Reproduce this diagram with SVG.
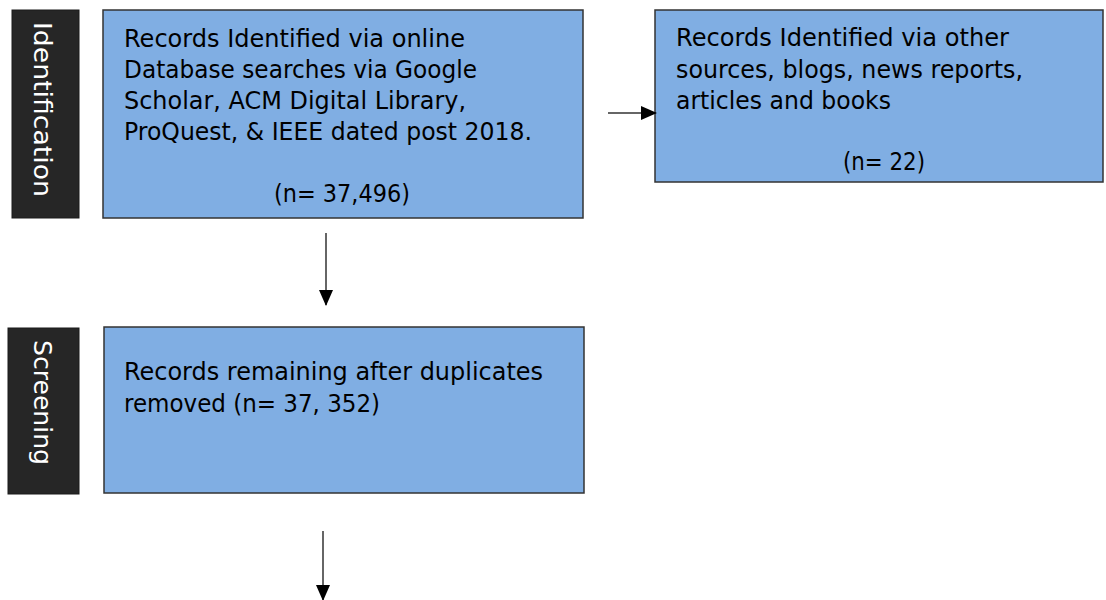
<svg xmlns="http://www.w3.org/2000/svg" width="1106" height="600" viewBox="0 0 1106 600">
<style>
.lbl{fill:#262626;stroke:#1a1a1a;stroke-width:1}
.lt{fill:#ffffff;font-family:"DejaVu Sans","Liberation Sans",sans-serif;font-size:25px}
.box{fill:#80AEE3;stroke:#333333;stroke-width:1.5}
.t{fill:#000000;font-family:"DejaVu Sans","Liberation Sans",sans-serif;font-size:24px}
.c{stroke:#333333;stroke-width:1.5;fill:none}
</style>
<defs>
<marker id="ah" markerWidth="16" markerHeight="16" refX="15" refY="8" orient="auto" markerUnits="userSpaceOnUse" viewBox="0 0 16 16">
<path d="M0,1 L16,8 L0,15 z" fill="#000"/>
</marker>
</defs>
<g id="label-identification">
<rect class="lbl" x="12" y="10" width="67" height="208"/>
<text class="lt" transform="translate(34,22) rotate(90)" textLength="175" lengthAdjust="spacingAndGlyphs">Identification</text>
</g>
<g id="node-db">
<rect class="box" x="103" y="10" width="480" height="208"/>
<text class="t" x="124" y="47" textLength="341" lengthAdjust="spacingAndGlyphs">Records Identified via online</text>
<text class="t" x="124" y="78" textLength="353" lengthAdjust="spacingAndGlyphs">Database searches via Google</text>
<text class="t" x="124" y="109" textLength="342" lengthAdjust="spacingAndGlyphs">Scholar, ACM Digital Library,</text>
<text class="t" x="124" y="140" textLength="408" lengthAdjust="spacingAndGlyphs">ProQuest, &amp; IEEE dated post 2018.</text>
<text class="t" x="274" y="202" textLength="136" lengthAdjust="spacingAndGlyphs">(n= 37,496)</text>
</g>
<g id="node-other">
<rect class="box" x="655" y="10" width="448" height="172"/>
<text class="t" x="676" y="46" textLength="333" lengthAdjust="spacingAndGlyphs">Records Identified via other</text>
<text class="t" x="676" y="78" textLength="347" lengthAdjust="spacingAndGlyphs">sources, blogs, news reports,</text>
<text class="t" x="676" y="109" textLength="215" lengthAdjust="spacingAndGlyphs">articles and books</text>
<text class="t" x="843" y="170" textLength="82" lengthAdjust="spacingAndGlyphs">(n= 22)</text>
</g>
<g id="label-screening">
<rect class="lbl" x="8" y="328" width="71" height="166"/>
<text class="lt" transform="translate(34,340) rotate(90)" textLength="125" lengthAdjust="spacingAndGlyphs">Screening</text>
</g>
<g id="node-screen">
<rect class="box" x="104" y="327" width="480" height="166"/>
<text class="t" x="124" y="380" textLength="419" lengthAdjust="spacingAndGlyphs">Records remaining after duplicates</text>
<text class="t" x="124" y="412" textLength="256" lengthAdjust="spacingAndGlyphs">removed (n= 37, 352)</text>
</g>
<g id="connectors">
<line class="c" x1="608" y1="113" x2="656" y2="113" marker-end="url(#ah)"/>
<line class="c" x1="326" y1="233" x2="326" y2="305" marker-end="url(#ah)"/>
<line class="c" x1="323" y1="531" x2="323" y2="600" marker-end="url(#ah)"/>
</g>
</svg>
